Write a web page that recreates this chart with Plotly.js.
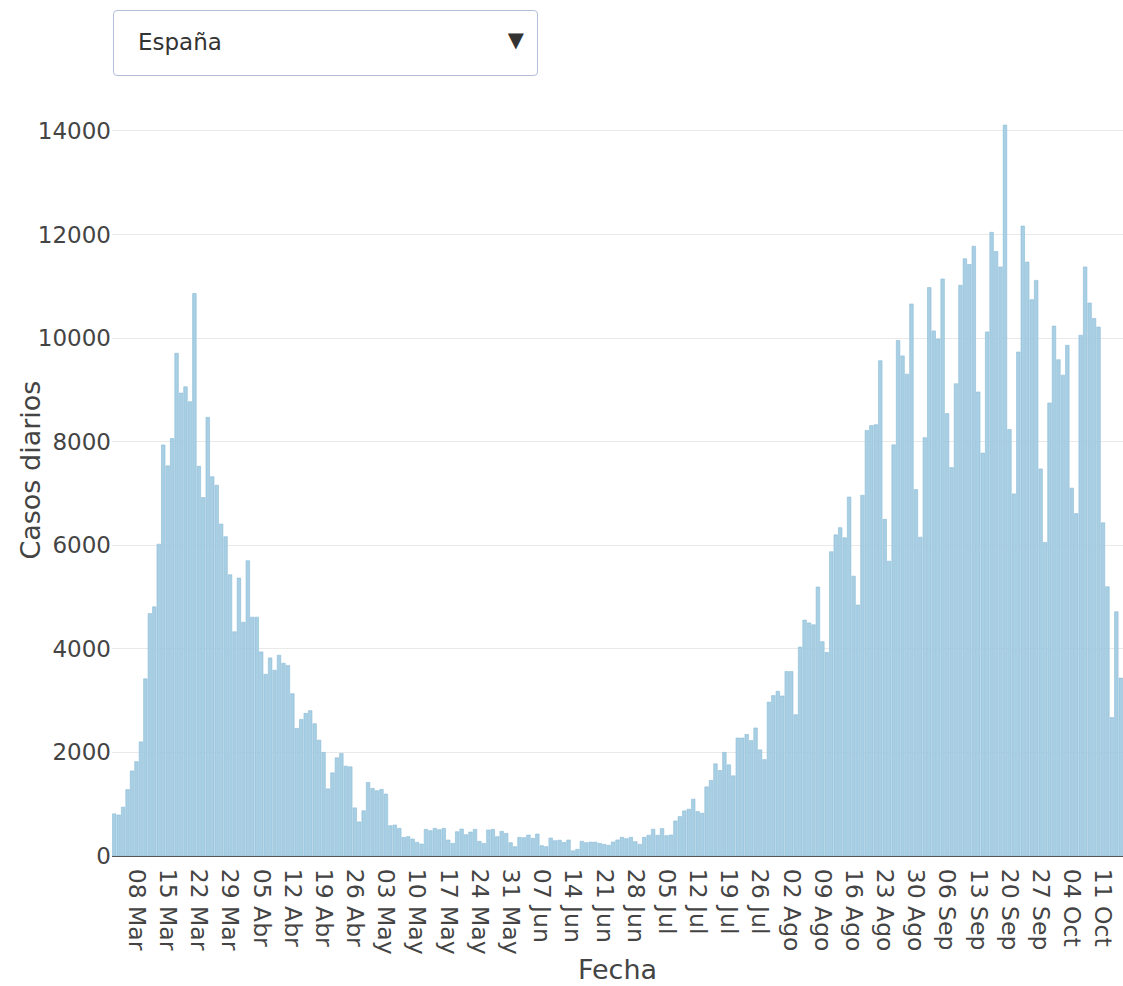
<!DOCTYPE html>
<html>
<head>
<meta charset="utf-8">
<script src="https://cdn.plot.ly/plotly-3.0.1.min.js"></script>
<style>
  html, body { margin: 0; padding: 0; background: #fff; }
  #wrap { position: relative; width: 1123px; height: 986px; }
  #chart { position: absolute; left: 0; top: 0; width: 1123px; height: 986px; }
  #selector {
    position: absolute; left: 113px; top: 10px; width: 425px; height: 66px;
    box-sizing: border-box; border: 1.5px solid #b3bed8; border-radius: 4px;
    background: #fff; font-family: "DejaVu Sans", Verdana, sans-serif;
    color: #333; z-index: 5;
  }
  #selector .label { position: absolute; left: 24px; top: 18px; font-size: 23px; }
  #selector .arrow { position: absolute; right: 13px; top: 17px; font-size: 21px; color: #333; }
</style>
</head>
<body>
<div id="wrap">
  <div id="chart"></div>
  <div id="selector"><span class="label">España</span><span class="arrow">▼</span></div>
</div>
<script>
// ---- data ----
const fechaInicio = "2020-03-03";   // first day shown

const casos = [
  814, 792, 943, 1282, 1642, 1822, 2204, 3421, 4681, 4811, 6021, 7937, 7533, 8059,
  9708, 8938, 9060, 8772, 10861, 7526, 6921, 8470, 7324, 7159, 6410, 6165, 5431, 4329,
  5366, 4515, 5702, 4612, 4612, 3941, 3509, 3825, 3586, 3876, 3722, 3677, 3135, 2464,
  2638, 2754, 2806, 2554, 2238, 2000, 1296, 1606, 1896, 1980, 1735, 1722, 929, 658,
  874, 1421, 1305, 1260, 1286, 1196, 585, 598, 534, 360, 373, 328, 264, 231,
  514, 489, 534, 508, 534, 309, 244, 469, 521, 412, 463, 514, 283, 244,
  502, 514, 373, 476, 437, 257, 180, 360, 354, 405, 341, 424, 199, 180,
  347, 296, 305, 264, 309, 100, 129, 284, 258, 268, 268, 245, 226, 208,
  271, 310, 361, 335, 361, 277, 226, 361, 400, 516, 400, 529, 393, 406,
  677, 761, 871, 903, 1097, 858, 826, 1335, 1458, 1780, 1651, 2000, 1761, 1548,
  2278, 2278, 2347, 2229, 2472, 2049, 1861, 2972, 3097, 3180, 3090, 3562, 3562, 2729,
  4034, 4555, 4500, 4465, 5194, 4139, 3930, 5875, 6201, 6340, 6145, 6930, 5403, 4847,
  6964, 8217, 8310, 8329, 9564, 6500, 5692, 7939, 9954, 9656, 9304, 10659, 7075, 6156,
  8078, 10975, 10139, 9981, 11142, 8542, 7500, 9118, 11021, 11532, 11421, 11774, 8960, 7781,
  10120, 12042, 11671, 11374, 14113, 8236, 6992, 9731, 12163, 11467, 10742, 11114, 7474, 6054,
  8747, 10232, 9582, 9285, 9861, 7103, 6611, 10056, 11374, 10678, 10380, 10214, 6434, 5200,
  2674, 4717, 3435
];

const tickFechas = [
  "2020-03-08", "2020-03-15", "2020-03-22", "2020-03-29", "2020-04-05", "2020-04-12",
  "2020-04-19", "2020-04-26", "2020-05-03", "2020-05-10", "2020-05-17", "2020-05-24",
  "2020-05-31", "2020-06-07", "2020-06-14", "2020-06-21", "2020-06-28", "2020-07-05",
  "2020-07-12", "2020-07-19", "2020-07-26", "2020-08-02", "2020-08-09", "2020-08-16",
  "2020-08-23", "2020-08-30", "2020-09-06", "2020-09-13", "2020-09-20", "2020-09-27",
  "2020-10-04", "2020-10-11"
];
const tickTextos = [
  "08 Mar", "15 Mar", "22 Mar", "29 Mar", "05 Abr", "12 Abr", "19 Abr", "26 Abr",
  "03 May", "10 May", "17 May", "24 May", "31 May", "07 Jun", "14 Jun", "21 Jun",
  "28 Jun", "05 Jul", "12 Jul", "19 Jul", "26 Jul", "02 Ago", "09 Ago", "16 Ago",
  "23 Ago", "30 Ago", "06 Sep", "13 Sep", "20 Sep", "27 Sep", "04 Oct", "11 Oct"
];

// consecutive calendar days, one per value
function diasDesde(inicio, n) {
  const out = [];
  const d0 = new Date(inicio + "T00:00:00Z");
  for (let i = 0; i < n; i++) {
    const d = new Date(d0.getTime() + i * 86400000);
    out.push(d.toISOString().slice(0, 10));
  }
  return out;
}
const fechas = diasDesde(fechaInicio, casos.length);

const FONT = '"DejaVu Sans", Verdana, sans-serif';

Plotly.newPlot("chart", [{
  type: "bar",
  x: fechas,
  y: casos,
  marker: { color: "rgb(168,207,227)", line: { color: "rgb(140,188,214)", width: 0.6 } },
  hoverinfo: "x+y"
}], {
  width: 1123, height: 986,
  margin: { l: 112, r: 0, t: 85, b: 130, pad: 0 },
  paper_bgcolor: "#fff", plot_bgcolor: "#fff",
  bargap: 0.2,
  showlegend: false,
  font: { family: FONT, color: "#444" },
  xaxis: {
    type: "date",
    autorange: true,
    tickmode: "array",
    tickvals: tickFechas,
    ticktext: tickTextos,
    tickangle: 90,
    tickfont: { size: 23.5, family: FONT, color: "#444" },
    showgrid: false,
    showline: true, linecolor: "#555", linewidth: 1,
    ticks: "outside", ticklen: 7, tickcolor: "rgba(0,0,0,0)",
    zeroline: false,
    automargin: false,
    title: { text: "Fecha", font: { size: 27, family: FONT, color: "#444" }, standoff: 6 }
  },
  yaxis: {
    range: [0, 14887],
    tickvals: [0, 2000, 4000, 6000, 8000, 10000, 12000, 14000],
    tickformat: "d",
    tickfont: { size: 23, family: FONT, color: "#444" },
    gridcolor: "#e9e9e9", gridwidth: 1,
    zeroline: false,
    showline: false,
    ticks: "",
    automargin: false
  },
  annotations: [{
    text: "Casos diarios",
    xref: "paper", yref: "paper",
    x: -0.081, y: 0.5, xanchor: "center", yanchor: "middle",
    textangle: -90, showarrow: false,
    font: { size: 27, family: FONT, color: "#444" }
  }]
}, { displayModeBar: false });
</script>
</body>
</html>
